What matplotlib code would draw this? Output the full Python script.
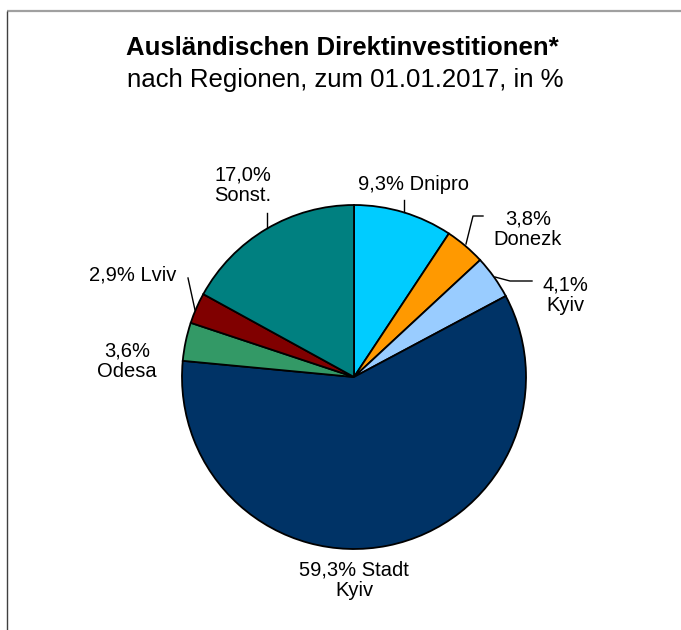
import matplotlib
matplotlib.use("Agg")
import matplotlib.pyplot as plt

plt.rcParams['font.family'] = ['Liberation Sans', 'DejaVu Sans']

# data, clockwise from 12 o'clock
regions = ['Dnipro', 'Donezk', 'Kyiv', 'Stadt Kyiv', 'Odesa', 'Lviv', 'Sonst.']
shares = [9.3, 3.8, 4.1, 59.3, 3.6, 2.9, 17.0]
colors = ['#00CCFF', '#FF9900', '#99CCFF', '#003366', '#339966', '#800000', '#008080']
label_texts = ['9,3% Dnipro', '3,8%\nDonezk', '4,1%\nKyiv', '59,3% Stadt\nKyiv',
               '3,6%\nOdesa', '2,9% Lviv', '17,0%\nSonst.']

W, H = 681, 630

# label positions and leader lines in image pixels (y down)
label_pos = [(413, 184), (528, 229), (565, 295), (354, 580),
             (127, 361), (133, 275), (243, 185)]
leaders = [
    [(404, 200), (404, 212)],
    [(483, 216), (473, 216), (466, 244)],
    [(532, 281), (510, 281), (495, 277)],
    None,
    None,
    [(188, 278), (195, 310)],
    [(267, 213), (267, 228)],
]


def fy(y):
    return H - y


fig = plt.figure(figsize=(W / 100, H / 100), dpi=100)
ax = fig.add_axes([0, 0, 1, 1])

# frame: only top and left lines visible
ax.plot([7, W], [fy(11), fy(11)], color='#a0a0a0', lw=1.6, solid_capstyle='butt')
ax.plot([7, 7], [fy(11), 0], color='#404040', lw=1.0, solid_capstyle='butt')

ax.pie(shares, colors=colors, startangle=90, counterclock=False,
       center=(354, fy(377)), radius=172,
       wedgeprops=dict(edgecolor='black', linewidth=1.3))
ax.set_xlim(0, W)
ax.set_ylim(0, H)
ax.set_aspect('equal')
ax.axis('off')

for txt, (x, y), ld in zip(label_texts, label_pos, leaders):
    ax.text(x, fy(y), txt, ha='center', va='center', fontsize=14.5,
            linespacing=1.08)
    if ld:
        ax.plot([p[0] for p in ld], [fy(p[1]) for p in ld], color='black', lw=1.0)

ax.text(W / 2 + 2, fy(48), 'Ausländischen Direktinvestitionen*', ha='center',
        va='center', fontsize=18.5, fontweight='bold')
ax.text(W / 2 + 5, fy(80), 'nach Regionen, zum 01.01.2017, in %', ha='center',
        va='center', fontsize=18.5)

fig.savefig('out.png', dpi=100)
